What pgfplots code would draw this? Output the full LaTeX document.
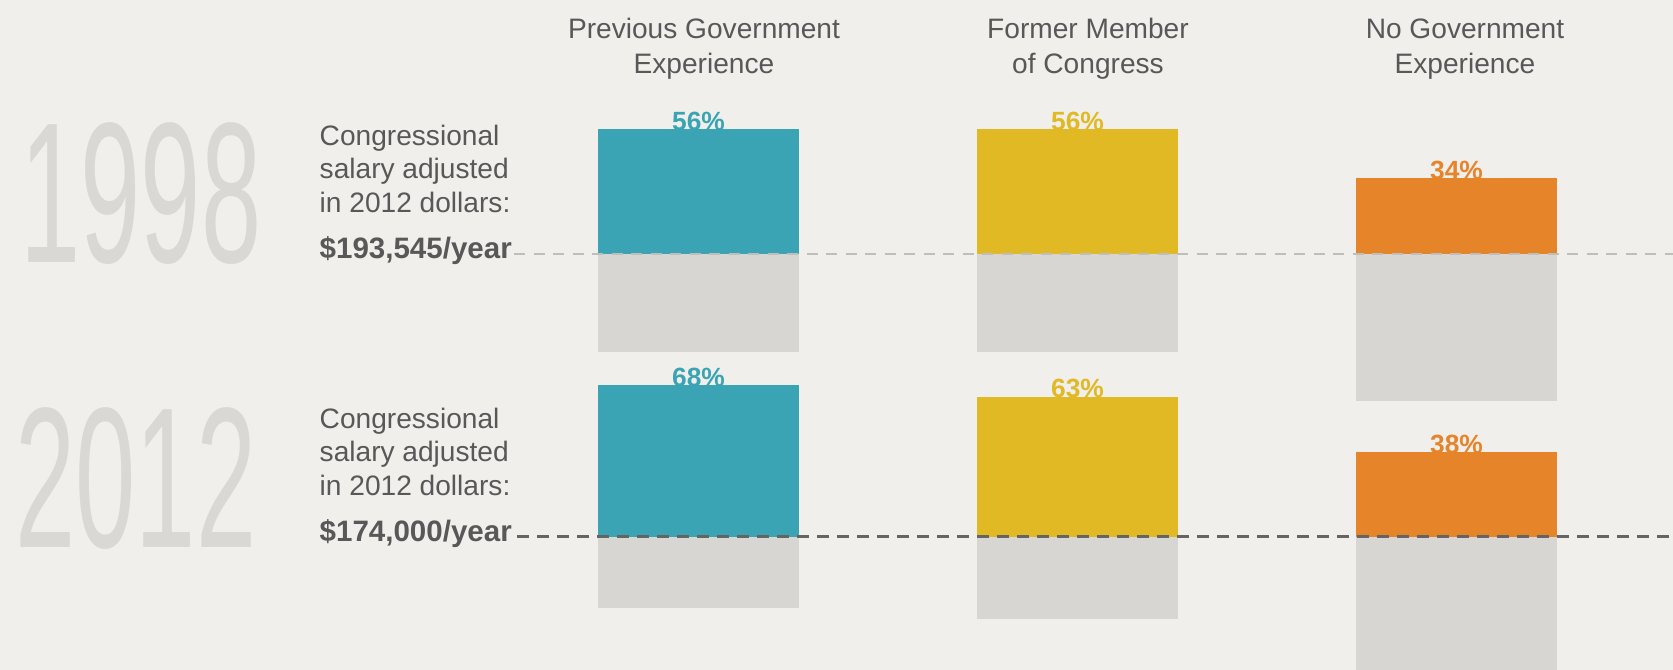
\documentclass[border=0pt]{standalone}
\usepackage{fontspec}
\setmainfont{Liberation Sans}
\usepackage{graphicx}
\usepackage{pgfplots}
\pgfplotsset{compat=1.18}
\definecolor{bg}{RGB}{240,239,236}
\definecolor{barg}{RGB}{215,214,210}
\definecolor{yeargray}{RGB}{217,216,212}
\definecolor{txt}{RGB}{88,88,88}
\definecolor{tealc}{RGB}{58,164,180}
\definecolor{yellowc}{RGB}{225,185,36}
\definecolor{orangec}{RGB}{230,132,42}
\definecolor{dashA}{RGB}{190,190,188}
\definecolor{dashB}{RGB}{100,100,100}
\pgfplotsset{
  mybar/.style={ybar, bar width=2.01cm, bar shift=0pt, draw=none, fill=#1},
  lab/.style={nodes near coords={\pgfmathprintnumber{\pgfplotspointmeta}\%},
    every node near coord/.append style={text=#1, inner sep=0pt, yshift=-0.02cm,
      font=\bfseries\fontsize{7.5}{7.5}\selectfont}},
  rowaxis/.style={anchor=origin, x=3.79cm, y=0.0223cm, xmin=-0.5, xmax=2.5,
    ymin=-100, ymax=100, hide axis, clip=false,
    /pgf/number format/assume math mode=true}
}
\begin{document}
\begin{tikzpicture}
\fill[bg] (0,0) rectangle (16.73,6.70);
\begin{scope}
\clip (0,0) rectangle (16.73,6.70);
% years
\node[inner sep=0pt, text=yeargray, font=\fontsize{57}{57}\selectfont] at (1.41,4.76) {\scalebox{0.54}[1]{1998}};
\node[inner sep=0pt, text=yeargray, font=\fontsize{57}{57}\selectfont] at (1.36,1.91) {\scalebox{0.54}[1]{2012}};
% side texts
\foreach \yb/\sal in {4.16/{\$193,545/year}, 1.33/{\$174,000/year}}{
  \node[anchor=base west, inner sep=0pt, text=txt, font=\fontsize{8}{8}\selectfont] at (3.19,\yb+1.08) {Congressional};
  \node[anchor=base west, inner sep=0pt, text=txt, font=\fontsize{8}{8}\selectfont] at (3.19,\yb+0.75) {salary adjusted};
  \node[anchor=base west, inner sep=0pt, text=txt, font=\fontsize{8}{8}\selectfont] at (3.19,\yb+0.41) {in 2012 dollars:};
  \node[anchor=base west, inner sep=0pt, text=txt, font=\bfseries\fontsize{8.4}{8.4}\selectfont] at (3.19,\yb-0.05) {\sal};
}
% headers
\foreach \cx/\la/\lb in {7.04/{Previous Government}/{Experience}, 10.88/{Former Member}/{of Congress}, 14.65/{No Government}/{Experience}}{
  \node[anchor=base, inner sep=0pt, text=txt, font=\fontsize{8}{8}\selectfont] at (\cx,6.31) {\la};
  \node[anchor=base, inner sep=0pt, text=txt, font=\fontsize{8}{8}\selectfont] at (\cx,5.96) {\lb};
}
% 1998
\begin{axis}[rowaxis, at={(6.985cm,4.16cm)}]
\addplot[mybar=barg] coordinates {(0,-44)};
\addplot[mybar=barg] coordinates {(1,-44)};
\addplot[mybar=barg] coordinates {(2,-66)};
\addplot[mybar=tealc, lab=tealc] coordinates {(0,56)};
\addplot[mybar=yellowc, lab=yellowc] coordinates {(1,56)};
\addplot[mybar=orangec, lab=orangec] coordinates {(2,34)};
\addplot[mybar=tealc] coordinates {(0,56)};
\addplot[mybar=yellowc] coordinates {(1,56)};
\addplot[mybar=orangec] coordinates {(2,34)};
\end{axis}
% 2012
\begin{axis}[rowaxis, at={(6.985cm,1.33cm)}]
\addplot[mybar=barg] coordinates {(0,-32)};
\addplot[mybar=barg] coordinates {(1,-37)};
\addplot[mybar=barg] coordinates {(2,-62)};
\addplot[mybar=tealc, lab=tealc] coordinates {(0,68)};
\addplot[mybar=yellowc, lab=yellowc] coordinates {(1,63)};
\addplot[mybar=orangec, lab=orangec] coordinates {(2,38)};
\addplot[mybar=tealc] coordinates {(0,68)};
\addplot[mybar=yellowc] coordinates {(1,63)};
\addplot[mybar=orangec] coordinates {(2,38)};
\end{axis}
% salary reference lines
\draw[line width=0.02cm, dashA, dash pattern=on 0.11cm off 0.085cm] (5.14,4.16) -- (16.73,4.16);
\draw[line width=0.03cm, dashB, dash pattern=on 0.12cm off 0.08cm] (5.17,1.33) -- (16.73,1.33);
\end{scope}
\pgfresetboundingbox
\useasboundingbox (0,0) rectangle (16.73,6.70);
\end{tikzpicture}
\end{document}
